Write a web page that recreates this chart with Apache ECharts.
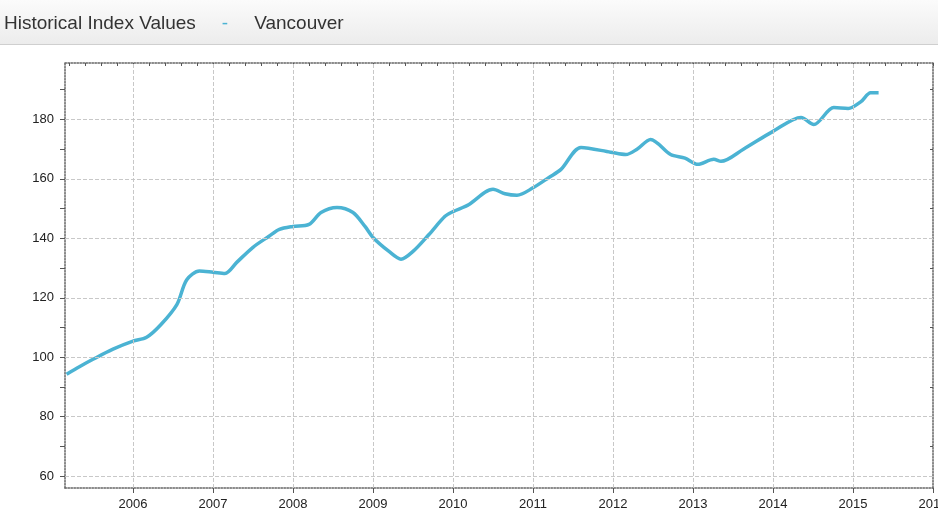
<!DOCTYPE html>
<html lang="en">
<head>
<meta charset="UTF-8">
<title>Historical Index Values - Vancouver</title>
<script src="https://cdn.jsdelivr.net/npm/echarts@6/dist/echarts.min.js"></script>
<style>
  html, body { margin:0; padding:0; background:#fff; }
  #chart { width:938px; height:527px; }
</style>
</head>
<body>
<div id="chart"></div>
<script>
// decimal year of each reading, and the index value
var years = [2005.17, 2005.33, 2005.5, 2005.75, 2006.0, 2006.17, 2006.35, 2006.55, 2006.67, 2006.83,
  2007.0, 2007.15, 2007.3, 2007.5, 2007.7, 2007.83, 2008.0, 2008.2, 2008.35, 2008.55,
  2008.75, 2008.9, 2009.0, 2009.2, 2009.35, 2009.5, 2009.7, 2009.9, 2010.0, 2010.2,
  2010.4, 2010.5, 2010.65, 2010.8, 2011.0, 2011.2, 2011.35, 2011.6, 2011.97, 2012.16,
  2012.3, 2012.47, 2012.72, 2012.9, 2013.06, 2013.26, 2013.35, 2013.63, 2014.0, 2014.35,
  2014.51, 2014.76, 2014.94, 2015.1, 2015.22, 2015.32];
var values = [94.3, 96.8, 99.3, 102.7, 105.4, 106.7, 111, 117.8, 126, 129,
  128.6, 128.2, 132, 137, 140.7, 143, 144, 144.7, 148.7, 150.4,
  148.7, 144, 140.3, 135.6, 133, 135.6, 141.3, 147.4, 149, 151.4,
  155.5, 156.5, 155, 154.5, 157, 160.5, 163.2, 170.6, 169, 168.2,
  170, 173.3, 168.2, 167, 164.9, 166.6, 165.9, 170, 176, 180.7,
  178.3, 184, 183.7, 186, 189, 189];
var yearTicks = [2006, 2007, 2008, 2009, 2010, 2011, 2012, 2013, 2014, 2015, 2016];
var yTicks = [60, 80, 100, 120, 140, 160, 180];

var xMin = 2005.15, xMax = 2016.0, yMin = 56, yMax = 199;

var minorX = [];
for (var y = 2005; y <= 2016; y++) {
  for (var k = 1; k < 5; k++) {
    var v = +(y + k * 0.2).toFixed(2);
    if (v > xMin && v < xMax) minorX.push(v);
  }
}
var minorY = [];
for (var m = 60; m < yMax; m += 10) minorY.push(m);

var frame = { show:true, lineStyle:{ color:'#666', width:1.5, type:'dotted' } };
var tickDark = { color:'#555', width:1 };

var myChart = echarts.init(document.getElementById('chart'));
myChart.setOption({
  animation:false,
  graphic:[
    { type:'rect', shape:{ x:0, y:0, width:938, height:44 },
      style:{ fill:new echarts.graphic.LinearGradient(0,0,0,1,[{offset:0,color:'#fbfbfb'},{offset:1,color:'#ececec'}]) } },
    { type:'rect', shape:{ x:0, y:44, width:938, height:1 }, style:{ fill:'#cfcfcf' } }
  ],
  title:{
    text:'{a|Historical Index Values}{d|-}{a|Vancouver}',
    left:-1, top:9,
    textStyle:{
      rich:{
        a:{ fontFamily:'Liberation Sans, Arial', fontSize:19, fontWeight:'normal', color:'#333' },
        d:{ fontFamily:'Liberation Sans, Arial', fontSize:19, fontWeight:'normal', color:'#4bb3d3', padding:[0,26,0,26] }
      }
    }
  },
  grid:{ left:65, right:5, top:63, bottom:39, outerBoundsMode:'none', containLabel:false },
  xAxis:[
    { type:'value', min:xMin, max:xMax, position:'bottom',
      axisLine:frame,
      axisTick:{ show:true, length:5, lineStyle:tickDark, customValues:yearTicks },
      axisLabel:{ customValues:yearTicks, color:'#222', fontSize:13, fontFamily:'Liberation Sans', margin:10,
        formatter:function (v) { return String(Math.round(v)); } },
      splitLine:{ show:false } },
    { type:'value', min:xMin, max:xMax, position:'top',
      axisLine:frame,
      axisTick:{ show:true, length:3, inside:true, lineStyle:tickDark, customValues:minorX.concat(yearTicks) },
      axisLabel:{ show:false }, splitLine:{ show:false } }
  ],
  yAxis:[
    { type:'value', min:yMin, max:yMax, position:'left',
      axisLine:frame,
      axisTick:{ show:true, length:5, lineStyle:tickDark, customValues:minorY },
      axisLabel:{ customValues:yTicks, color:'#222', fontSize:13, fontFamily:'Liberation Sans', margin:11 },
      splitLine:{ show:false } },
    { type:'value', min:yMin, max:yMax, position:'right',
      axisLine:frame,
      axisTick:{ show:true, length:3, inside:true, lineStyle:tickDark, customValues:minorY },
      axisLabel:{ show:false }, splitLine:{ show:false } }
  ],
  series:[
    { // vertical grid lines at each year
      type:'line', silent:true, data:[], xAxisIndex:0, yAxisIndex:0,
      markLine:{ symbol:'none', silent:true, label:{ show:false },
        lineStyle:{ color:'#c8c8c8', type:'dashed', width:1 },
        data:yearTicks.filter(function (t) { return t < xMax; }).map(function (t) { return { xAxis:t }; }) }
    },
    { // horizontal grid lines
      type:'line', silent:true, data:[], xAxisIndex:0, yAxisIndex:0,
      markLine:{ symbol:'none', silent:true, label:{ show:false },
        lineStyle:{ color:'#c8c8c8', type:'dashed', width:1 },
        data:yTicks.map(function (t) { return { yAxis:t }; }) }
    },
    { name:'Vancouver', type:'line', smooth:0.3, showSymbol:false,
      data:years.map(function (x, i) { return [x, values[i]]; }),
      lineStyle:{ color:'#4bb3d3', width:3.5 } }
  ]
});
</script>
</body>
</html>
